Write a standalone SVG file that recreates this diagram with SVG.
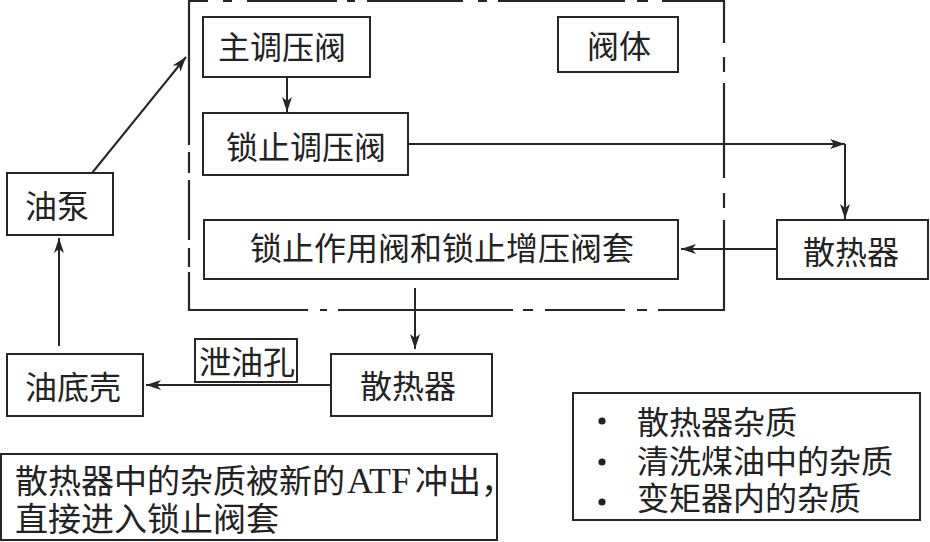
<svg xmlns="http://www.w3.org/2000/svg" width="930" height="542" viewBox="0 0 930 542">
<style>
  .box { fill: #fff; stroke: #262626; stroke-width: 2; }
  .t { font-family: "Liberation Serif", "Noto Sans CJK SC", serif; font-size: 32px; fill: #222; text-anchor: middle; }
  .tl { font-family: "Liberation Serif", "Noto Sans CJK SC", serif; font-size: 32px; fill: #222; }
  .ln { fill: none; stroke: #262626; stroke-width: 2; }
  .bd { fill: none; stroke: #262626; stroke-width: 2.2; }
</style>
<defs>
  <marker id="ah" markerUnits="userSpaceOnUse" markerWidth="18" markerHeight="12" refX="15" refY="5.5" orient="auto">
    <path d="M0,0.5 L15,5.5 L0,10.5 L4,5.5 Z" fill="#262626"/>
  </marker>
</defs>
<rect width="930" height="542" fill="#fff"/>

<g id="valve-body-border">
  <path class="bd" d="M189,1 V145 M189,152 V173 M189,180 V240 M189,248 V267 M189,272 V310"/>
  <path class="bd" d="M724,1 V43 M724,57 V72 M724,83 V178 M724,193 V208 M724,220 V310"/>
  <path class="bd" d="M188,1 H208 M223,1 H232 M247,1 H337 M347,1 H355 M367,1 H463 M478,1 H487 M498,1 H625 M637,1 H648 M662,1 H725"/>
  <path class="bd" d="M188,310 H308 M320,310 H327 M338,310 H513 M523,310 H533 M545,310 H625 M637,310 H647 M658,310 H725"/>
</g>

<g id="connectors">
  <path class="ln" d="M92,173 L186,57" marker-end="url(#ah)"/>
  <path class="ln" d="M287,77 V112" marker-end="url(#ah)"/>
  <path class="ln" d="M408,144 H845" marker-end="url(#ah)"/>
  <path class="ln" d="M845,144 V219" marker-end="url(#ah)"/>
  <path class="ln" d="M777,249 H681" marker-end="url(#ah)"/>
  <path class="ln" d="M415,288 V349" marker-end="url(#ah)"/>
  <path class="ln" d="M331,385 H146" marker-end="url(#ah)"/>
  <path class="ln" d="M59,346 V238" marker-end="url(#ah)"/>
</g>

<g id="main-pressure-valve">
  <rect class="box" x="203" y="17" width="167" height="60"/>
  <text class="t" x="282" y="59">主调压阀</text>
</g>
<g id="valve-body">
  <rect class="box" x="558" y="17" width="120" height="55"/>
  <text class="t" x="619" y="58">阀体</text>
</g>
<g id="lockup-pressure-valve">
  <rect class="box" x="203" y="113" width="205" height="62"/>
  <text class="t" x="306" y="159">锁止调压阀</text>
</g>
<g id="lockup-valve-sleeve">
  <rect class="box" x="204" y="220" width="474" height="59"/>
  <text class="t" x="442" y="260">锁止作用阀和锁止增压阀套</text>
</g>
<g id="radiator-right">
  <rect class="box" x="777" y="220" width="151" height="59"/>
  <text class="t" x="851" y="264">散热器</text>
</g>
<g id="oil-pump">
  <rect class="box" x="7" y="173" width="106" height="62"/>
  <text class="t" x="57" y="218">油泵</text>
</g>
<g id="oil-pan">
  <rect class="box" x="7" y="354" width="136" height="62"/>
  <text class="t" x="73" y="399">油底壳</text>
</g>
<g id="radiator-bottom">
  <rect class="box" x="331" y="354" width="161" height="62"/>
  <text class="t" x="408" y="398">散热器</text>
</g>
<g id="drain-hole">
  <rect class="box" x="195" y="339" width="102" height="43"/>
  <text class="t" x="247" y="374">泄油孔</text>
</g>
<g id="note-left">
  <rect class="box" x="1" y="454" width="496" height="86"/>
  <text class="tl" y="493"><tspan x="15" style="font-size:33px">散热器中的杂质被新的</tspan><tspan x="347" style="font-size:36px">ATF</tspan><tspan x="415" style="font-size:33px">冲出，</tspan></text>
  <text class="tl" x="15" y="531" style="font-size:33px">直接进入锁止阀套</text>
</g>
<g id="note-right">
  <rect class="box" x="573" y="393" width="347" height="127"/>
  <circle cx="602" cy="421" r="3.6" fill="#222"/>
  <circle cx="602" cy="462" r="3.6" fill="#222"/>
  <circle cx="602" cy="502" r="3.6" fill="#222"/>
  <text class="tl" x="637" y="434">散热器杂质</text>
  <text class="tl" x="637" y="473">清洗煤油中的杂质</text>
  <text class="tl" x="637" y="510">变矩器内的杂质</text>
</g>
</svg>
